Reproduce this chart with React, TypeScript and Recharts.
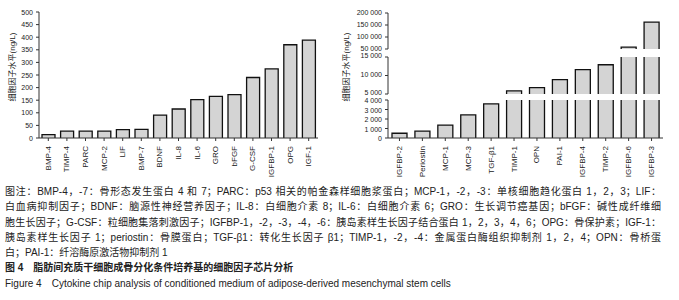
import React from "react";
import { BarChart, Bar, XAxis, YAxis } from "recharts";

const leftCategories = ["BMP-4", "TIMP-4", "PARC", "MCP-2", "LIF", "BMP-7", "BDNF", "IL-8", "IL-6", "GRO", "bFGF", "G-CSF", "IGFBP-1", "OPG", "IGF-1"];
const leftValues = [13, 27, 27, 27, 33, 34, 91, 115, 152, 165, 172, 240, 274, 370, 388];
const leftTicks = [0, 50, 100, 150, 200, 250, 300, 350, 400, 450, 500];

const rightCategories = ["IGFBP-2", "Periostin", "MCP-1", "MCP-3", "TGF-β1", "TIMP-1", "OPN", "PAI-1", "IGFBP-4", "TIMP-2", "IGFBP-6", "IGFBP-3"];
const rightValues = [500, 720, 1360, 2430, 3600, 5850, 6700, 8900, 11600, 12900, 58000, 162000];
const lowTicks = [0, 1000, 2000, 3000, 4000];
const midTicks = [5000, 10000, 15000];
const highTicks = [50000, 100000, 150000, 200000];

const CAPTION = [
  "图注：BMP-4，-7：骨形态发生蛋白 4 和 7；PARC：p53 相关的帕金森样细胞浆蛋白；MCP-1，-2，-3：单核细胞趋化蛋白 1，2，3；LIF：",
  "白血病抑制因子；BDNF：脑源性神经营养因子；IL-8：白细胞介素 8；IL-6：白细胞介素 6；GRO：生长调节癌基因；bFGF：碱性成纤维细",
  "胞生长因子；G-CSF：粒细胞集落刺激因子；IGFBP-1，-2，-3，-4，-6：胰岛素样生长因子结合蛋白 1，2，3，4，6；OPG：骨保护素；IGF-1：",
  "胰岛素样生长因子 1；periostin：骨膜蛋白；TGF-β1：转化生长因子 β1；TIMP-1，-2，-4：金属蛋白酶组织抑制剂 1，2，4；OPN：骨桥蛋",
];
const CAPTION_END = "白；PAI-1：纤溶酶原激活物抑制剂 1";
const TITLE_CN = "图 4　脂肪间充质干细胞成骨分化条件培养基的细胞因子芯片分析";
const TITLE_EN = "Figure 4　Cytokine chip analysis of conditioned medium of adipose-derived mesenchymal stem cells";

const FONT = '"Liberation Sans", Arial, "Noto Sans CJK SC", sans-serif';
const INK = "#222";
const tickStyle = { fontSize: 8, fill: INK, fontFamily: FONT };

const leftData = leftCategories.map((name, i) => ({ name, value: leftValues[i] }));
const rightData = rightCategories.map((name, i) => ({
  name,
  value: rightValues[i],
  mid: rightValues[i] >= 5000 ? rightValues[i] : null,
  high: rightValues[i] >= 50000 ? rightValues[i] : null,
}));

const fmt = (v: number) => String(v).replace(/\B(?=(\d{3})+(?!\d))/g, " ");

// bar without the bottom edge, so broken segments read as open
const OpenBar = (p: any) => {
  const { x, y, width, height } = p;
  if (!height || height <= 0) return null;
  return (
    <g>
      <rect x={x} y={y} width={width} height={height} fill="#d4d4d4" />
      <path d={`M${x},${y + height}V${y}H${x + width}V${y + height}`} fill="none" stroke="#111" strokeWidth={1.3} />
    </g>
  );
};

const RotTick = (p: any) => {
  const { x, y, payload } = p;
  const ty = y + 3;
  return (
    <text x={x} y={ty} transform={`rotate(-90 ${x} ${ty})`} textAnchor="end" dominantBaseline="central" style={tickStyle}>
      {payload.value}
    </text>
  );
};

// plain y tick, no word wrapping of "200 000"
const YTick = (p: any) => {
  const { x, y, payload, shift = 0 } = p;
  return (
    <text x={x - 1} y={y + shift} textAnchor="end" dominantBaseline="central" style={{ ...tickStyle, fontSize: 7 }}>
      {fmt(payload.value)}
    </text>
  );
};

const axisProps = { stroke: "#333", tickSize: 3, tickLine: { stroke: "#333" } };

export default function App() {
  return (
    <div style={{ position: "absolute", left: 0, top: 0, width: 679, height: 300, background: "#fff", overflow: "hidden" }}>
      <div style={{ position: "absolute", left: 0, top: 0 }}>
        <BarChart width={330} height={180} data={leftData} margin={{ top: 12, right: 12, left: 0, bottom: 0 }}>
          <XAxis dataKey="name" interval={0} height={42} tick={<RotTick />} {...axisProps} />
          <YAxis width={39} domain={[0, 500]} ticks={leftTicks} interval={0} tick={<YTick />} {...axisProps} />
          <Bar dataKey="value" barSize={13} shape={<OpenBar />} isAnimationActive={false} />
        </BarChart>
      </div>

      <div style={{ position: "absolute", left: 340, top: 0 }}>
        <BarChart width={339} height={180} data={rightData} margin={{ top: 100, right: 16, left: 0, bottom: 0 }}>
          <XAxis dataKey="name" interval={0} height={42} tick={<RotTick />} {...axisProps} />
          <YAxis width={48} domain={[0, 4000]} ticks={lowTicks} interval={0} allowDataOverflow tick={<YTick shift={0.8} />} {...axisProps} />
          <Bar dataKey="value" barSize={15} shape={<OpenBar />} isAnimationActive={false} />
        </BarChart>
      </div>

      <div style={{ position: "absolute", left: 340, top: 0 }}>
        <BarChart width={339} height={180} data={rightData} margin={{ top: 57, right: 16, left: 0, bottom: 86 }}>
          <XAxis dataKey="name" hide />
          <YAxis width={48} domain={[5000, 15000]} ticks={midTicks} interval={0} allowDataOverflow tick={<YTick shift={-1.5} />} {...axisProps} />
          <Bar dataKey="mid" barSize={15} shape={<OpenBar />} isAnimationActive={false} />
        </BarChart>
      </div>

      <div style={{ position: "absolute", left: 340, top: 0 }}>
        <BarChart width={339} height={180} data={rightData} margin={{ top: 13, right: 16, left: 0, bottom: 131 }}>
          <XAxis dataKey="name" hide />
          <YAxis width={48} domain={[50000, 200000]} ticks={highTicks} interval={0} allowDataOverflow tick={<YTick shift={-1} />} {...axisProps} />
          <Bar dataKey="high" barSize={15} shape={<OpenBar />} isAnimationActive={false} />
        </BarChart>
      </div>

      <svg width={679} height={180} style={{ position: "absolute", left: 0, top: 0, pointerEvents: "none" }}>
        <text x={12} y={67} transform="rotate(-90 12 67)" textAnchor="middle" dominantBaseline="central" style={{ fontSize: 8, fill: INK, fontFamily: FONT }}>
          细胞因子水平(ng/L)
        </text>
        <text x={346} y={67} transform="rotate(-90 346 67)" textAnchor="middle" dominantBaseline="central" style={{ fontSize: 8, fill: INK, fontFamily: FONT }}>
          细胞因子水平(ng/L)
        </text>
      </svg>

      <div style={{ position: "absolute", left: 5, top: 184, width: 656, fontFamily: FONT, fontSize: 10, color: INK, lineHeight: "15.3px" }}>
        {CAPTION.map((line) => (
          <div key={line} style={{ whiteSpace: "nowrap", textAlign: "justify", textAlignLast: "justify" }}>
            {line}
          </div>
        ))}
        <div style={{ whiteSpace: "nowrap" }}>{CAPTION_END}</div>
        <div style={{ whiteSpace: "nowrap", fontWeight: "bold" }}>{TITLE_CN}</div>
        <div style={{ whiteSpace: "nowrap" }}>{TITLE_EN}</div>
      </div>
    </div>
  );
}
